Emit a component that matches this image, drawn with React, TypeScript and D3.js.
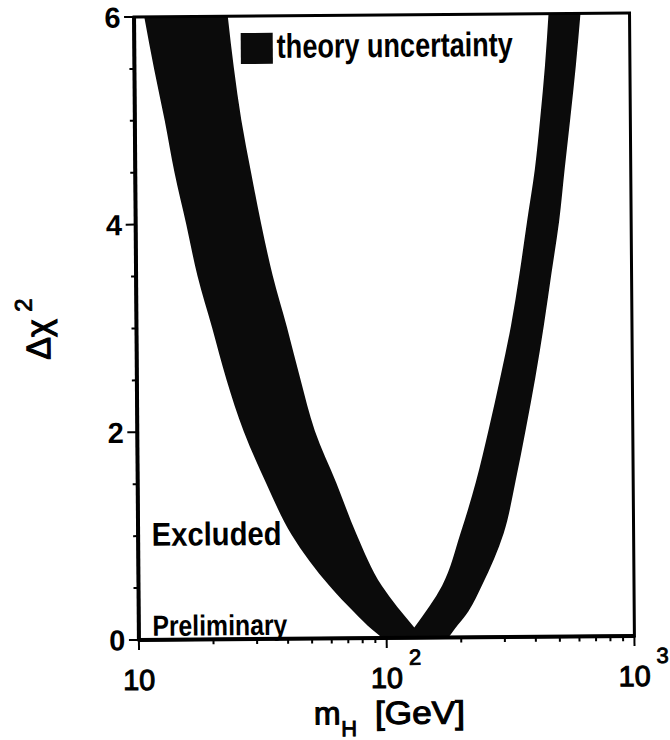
import React from 'react';
import * as d3 from 'd3';

// Band boundaries: Δχ² levels and Higgs mass (GeV) along each edge
const leftOuterChi2 = [6, 5.5, 5, 4.5, 4, 3.5, 3, 2.5, 2, 1.5, 1, 0.5, 0.25, 0.08, 0];
const leftOuterMass = [11.0, 12.0, 13.2, 14.4, 16.0, 17.7, 20.2, 23.0, 26.9, 33.0, 41.7, 59.3, 74.1, 87.6, 96.1];

const rightOuterChi2 = [0, 0.08, 0.25, 0.5, 1, 1.5, 2, 2.5, 3, 3.5, 4, 4.5, 5, 5.5, 6];
const rightOuterMass = [177.5, 188, 214, 243.5, 299, 335, 370, 406, 441, 475, 512, 541, 573, 605, 634];

const rightInnerChi2 = [6, 5.5, 5, 4.5, 4, 3.5, 3, 2.5, 2, 1.5, 1, 0.5, 0.1];
const rightInnerMass = [471, 454, 433, 410, 380, 353, 325, 293, 262, 232, 200, 168, 129.4];

const leftInnerChi2 = [0.1, 0.5, 1, 1.5, 2, 2.5, 3, 3.5, 4, 4.5, 5, 5.5, 6];
const leftInnerMass = [129.4, 96.1, 76.2, 63.3, 52.1, 45.7, 40.5, 35.6, 32.1, 29.3, 26.9, 25.2, 23.9];

// Axis labels
const yLabelValues = [0, 2, 4, 6];
const xLabelValues = [10, 100, 1000];
const xLabelExponents = ['', '2', '3'];

const W = 670;
const H = 740;
const plot = { left: 136.5, right: 632, top: 15, bottom: 638 };
const FONT = "'Liberation Sans', Arial, Helvetica, sans-serif";

export default function App() {
  const x = d3.scaleLog().domain([10, 1000]).range([plot.left, plot.right]);
  const y = d3.scaleLinear().domain([0, 6]).range([plot.bottom, plot.top]);

  const edge = d3
    .line<[number, number]>()
    .x((d) => x(d[0]))
    .y((d) => y(d[1]))
    .curve(d3.curveMonotoneY);

  const zip = (m: number[], c: number[]) => m.map((v, i) => [v, c[i]] as [number, number]);
  const segs = [
    edge(zip(leftOuterMass, leftOuterChi2)) as string,
    edge(zip(rightOuterMass, rightOuterChi2)) as string,
    edge(zip(rightInnerMass, rightInnerChi2)) as string,
    edge(zip(leftInnerMass, leftInnerChi2)) as string,
  ];
  const bandPath = segs.map((s, i) => (i === 0 ? s : 'L' + s.slice(1))).join('') + 'Z';

  const xTicks = x.ticks();
  const yTicks = d3.range(0, 6.001, 0.5);
  const isMajorX = (v: number) => Math.abs(Math.log10(v) - Math.round(Math.log10(v))) < 1e-6;
  const isMajorY = (v: number) => yLabelValues.includes(v);

  return (
    <svg
      width={W}
      height={H}
      style={{ position: 'absolute', left: 0, top: 0, background: '#fff' }}
      fontFamily={FONT}
    >
      <defs>
        <clipPath id="plotClip">
          <rect x={plot.left} y={plot.top} width={plot.right - plot.left} height={plot.bottom - plot.top} />
        </clipPath>
      </defs>
      <rect x={0} y={0} width={W} height={H} fill="#fff" />
      <g transform="rotate(-0.45 385 330)">
        {/* theory uncertainty band */}
        <path d={bandPath} fill="#0b0b0b" clipPath="url(#plotClip)" />

        {/* frame */}
        <rect
          x={plot.left}
          y={plot.top}
          width={plot.right - plot.left}
          height={plot.bottom - plot.top}
          fill="none"
          stroke="#000"
          strokeWidth={3}
        />
        <line x1={plot.left} x2={plot.left} y1={plot.top} y2={plot.bottom} stroke="#000" strokeWidth={4} />
        <line x1={plot.left} x2={plot.right} y1={plot.bottom} y2={plot.bottom} stroke="#000" strokeWidth={4} />

        {/* x ticks */}
        {xTicks.map((v) => (
          <line
            key={'xt' + v}
            x1={x(v)}
            x2={x(v)}
            y1={plot.bottom}
            y2={plot.bottom + (isMajorX(v) ? 10 : 5)}
            stroke="#000"
            strokeWidth={2}
          />
        ))}
        {/* y ticks */}
        {yTicks.map((v) => (
          <line
            key={'yt' + v}
            x1={plot.left}
            x2={plot.left - (isMajorY(v) ? 10 : 5)}
            y1={y(v)}
            y2={y(v)}
            stroke="#000"
            strokeWidth={2}
          />
        ))}

        {/* y tick labels */}
        {yLabelValues.map((v) => (
          <text
            key={'yl' + v}
            x={123}
            y={y(v)}
            dy="0.36em"
            textAnchor="end"
            fontSize={29}
            fontWeight="bold"
          >
            {v}
          </text>
        ))}

        {/* x tick labels */}
        {xLabelValues.map((v, i) => (
          <g key={'xl' + v}>
            <text
              x={x(v)}
              y={688}
              textAnchor="middle"
              fontSize={29}
              stroke="#000"
              strokeWidth={1.1}
              textLength={32}
              lengthAdjust="spacingAndGlyphs"
            >
              {'10'}
            </text>
            {xLabelExponents[i] && (
              <text x={x(v) + 22} y={665} fontSize={22} stroke="#000" strokeWidth={0.9}>
                {xLabelExponents[i]}
              </text>
            )}
          </g>
        ))}

        {/* x axis title */}
        <text x={311} y={724} fontSize={32} stroke="#000" strokeWidth={1.1}>
          m
        </text>
        <text x={338} y={736} fontSize={22} stroke="#000" strokeWidth={0.9}>
          H
        </text>
        <text x={372} y={724} fontSize={32} stroke="#000" strokeWidth={1.1} textLength={90} lengthAdjust="spacingAndGlyphs">
          [GeV]
        </text>

        {/* y axis title */}
        <g transform="translate(50 357) rotate(-90)">
          <text x={0} y={0} fontSize={34} stroke="#000" strokeWidth={1.1}>
            Δχ
          </text>
          <text x={48} y={-18} fontSize={24} stroke="#000" strokeWidth={0.9}>
            2
          </text>
        </g>

        {/* legend */}
        <rect x={243} y={32} width={32} height={31} fill="#0b0b0b" />
        <text
          x={279}
          y={57}
          fontSize={34}
          fontWeight="bold"
          textLength={236}
          lengthAdjust="spacingAndGlyphs"
        >
          theory uncertainty
        </text>

        {/* region annotations */}
        <text x={150} y={544} fontSize={33} fontWeight="bold" textLength={130} lengthAdjust="spacingAndGlyphs">
          Excluded
        </text>
        <text x={150} y={634} fontSize={29} fontWeight="bold" textLength={135} lengthAdjust="spacingAndGlyphs">
          Preliminary
        </text>
      </g>
    </svg>
  );
}
